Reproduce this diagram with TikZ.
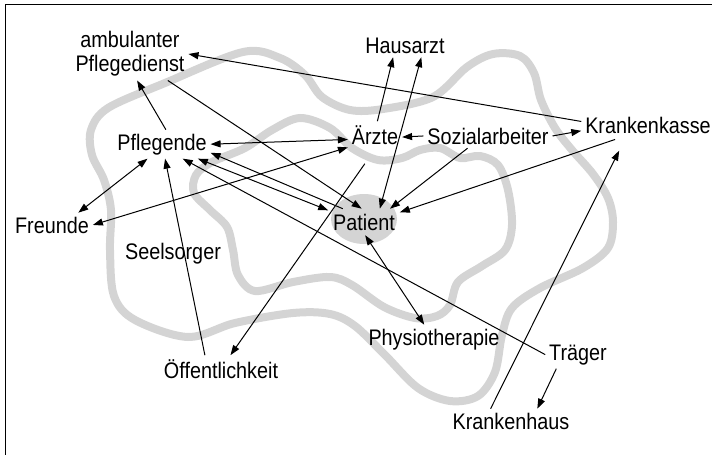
\documentclass[tikz,border=0pt]{standalone}
\usepackage{fontspec}
\setmainfont{Liberation Sans}[FakeStretch=0.88]
\usetikzlibrary{arrows.meta}
\definecolor{ringgray}{RGB}{212,212,212}
\newcommand{\labelsize}{\fontsize{22.5}{24}\selectfont}

\begin{document}
\begin{tikzpicture}[x=1pt,y=-1pt]
\useasboundingbox (0,0) rectangle (712,455);
\draw[line width=1pt] (5,455) -- (5,4) -- (712,4);

% the two rings and the patient spot
\begin{scope}[draw=ringgray, line width=8pt]
    \draw plot[smooth cycle, tension=0.55] coordinates {
        (243,52) (280,58) (305,75) (322,97) (350,110) (383,109) (433,97)
        (467,67) (493,54) (520,56) (534,73) (541,100) (555,128) (572,150)
        (593,174) (608,198) (613,222) (608,248) (583,268) (540,288) (512,308)
        (502,335) (495,372) (478,396) (450,401) (418,388) (385,355) (355,326)
        (330,314) (293,313) (235,323) (188,337) (135,320) (114,296) (110,250)
        (111,210) (104,180) (92,155) (91,130) (108,108) (165,83)};
    \draw plot[smooth cycle, tension=0.55] coordinates {
        (300,118) (330,128) (352,148) (378,160) (402,158) (420,150) (440,148)
        (460,158) (480,156) (498,165) (508,190) (512,225) (505,250) (482,266)
        (458,282) (450,305) (437,316) (415,318) (384,307) (352,285) (330,277)
        (293,282) (255,291) (238,275) (233,250) (227,227) (210,210) (194,193)
        (196,175) (212,162) (245,148) (272,130)};
    \fill[ringgray] (364,219) ellipse [x radius=33, y radius=25];
\end{scope}

\begin{scope}[every node/.style={font=\labelsize, inner sep=1pt, outer sep=3pt}]
    \node[align=center] (ambulant) at (130,54) {ambulanter\\Pflegedienst};
    \node[anchor=base] (hausarzt) at (405,53) {Hausarzt};
    \node[anchor=base] (pflegende) at (162,150) {Pflegende};
    \node[anchor=base] (aerzte) at (375,144) {Ärzte};
    \node[anchor=base] (sozial) at (488,144) {Sozialarbeiter};
    \node[anchor=base] (kasse) at (648,133) {Krankenkasse};
    \node[anchor=base] (freunde) at (52,233) {Freunde};
    \node[anchor=base] (seelsorger) at (173,259) {Seelsorger};
    \node[anchor=base, outer sep=4pt] (patient) at (364,230) {Patient};
    \node[anchor=base] (physio) at (434,345) {Physiotherapie};
    \node[anchor=base] (traeger) at (578,360) {Träger};
    \node[anchor=base] (krankenhaus) at (511,429) {Krankenhaus};
    \node[anchor=base] (oeffentl) at (221,378) {Öffentlichkeit};
\end{scope}

\begin{scope}[>={Triangle[length=10pt,width=7pt]},
              every edge/.style={draw, line width=1pt}]
    \path [->] (kasse.177) edge (ambulant.east);
    \path [->] (pflegende.75) edge (ambulant.-75);
    \path [->] (ambulant.-35) edge (patient.100);

    \path [->] (aerzte.80) edge (hausarzt.-135);
    \path [<->] (patient.40) edge (hausarzt.-36);

    \path [->] (sozial.west) edge (aerzte.-5);
    \path [->] (sozial.east) edge (kasse.185);
    \path [->] (sozial.-149) edge (patient.27);
    \path [->] (kasse.-155) edge[shorten <=7pt] (patient.15);

    \path [->] (krankenhaus.149) edge[shorten >=15pt] (kasse.-151);
    \path [->] (traeger.-147) edge (krankenhaus.25);
    \path [->] (traeger.west) edge (pflegende.-35);
    \path [<->] (patient.-85) edge (physio.124);

    \path [<->] (pflegende.east) edge (aerzte.190);
    \path [<->] (freunde.25) edge (pflegende.-135);
    \path [<->] (freunde.east) edge (aerzte.205);

    \path [->] (oeffentl.140) edge (pflegende.-78);
    \path [->] (aerzte.-87) edge[shorten <=19pt] (oeffentl.55);

    \path [<->] (pflegende.-22) edge (patient.162);
    \path [->] (patient.148) edge (pflegende.-10);
\end{scope}
\end{tikzpicture}
\end{document}
